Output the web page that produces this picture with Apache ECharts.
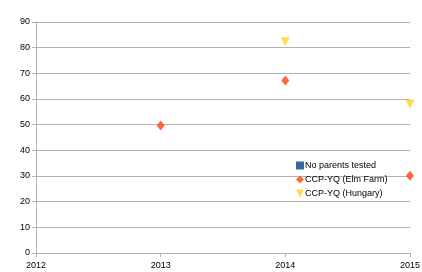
<!DOCTYPE html>
<html>
<head>
<meta charset="utf-8">
<script src="https://cdn.jsdelivr.net/npm/echarts@6/dist/echarts.min.js"></script>
<style>
  html, body { margin: 0; padding: 0; background: #fff; }
  #chart { width: 422px; height: 272px; }
</style>
</head>
<body>
<div id="chart"></div>
<script>
// data
const years = [2012, 2013, 2014, 2015];
const yTicks = [0, 10, 20, 30, 40, 50, 60, 70, 80, 90];
const noParents = [];
const elmFarm = [[2013, 49.7], [2014, 67.2], [2015, 30.1]];
const hungary = [[2014, 82.3], [2015, 58.0]];

const downTriangle = 'path://M0,0L10,0L5,10Z';
const font = 'Liberation Sans';

const chart = echarts.init(document.getElementById('chart'));

let option = {
    animation: false,
    textStyle: { fontFamily: font },
    grid: {
        left: 36,
        right: 12,
        top: 22,
        bottom: 19,
        outerBoundsMode: 'none'
    },
    legend: {
        orient: 'vertical',
        left: 291,
        top: 156,
        itemWidth: 8,
        itemHeight: 8,
        itemGap: 5,
        textStyle: { fontFamily: font, fontSize: 9, color: '#000', padding: [0, 0, 0, -4] },
        data: [
            { name: 'No parents tested', icon: 'rect' },
            { name: 'CCP-YQ (Elm Farm)', icon: 'diamond' },
            { name: 'CCP-YQ (Hungary)', icon: downTriangle }
        ]
    },
    xAxis: {
        type: 'value',
        min: years[0],
        max: years[years.length - 1],
        interval: 1,
        axisLine: { lineStyle: { color: '#b3b3b3' } },
        axisTick: { show: true, length: 4, lineStyle: { color: '#b3b3b3' } },
        axisLabel: { color: '#000', fontSize: 9, fontFamily: font, margin: 8, formatter: v => String(v) },
        splitLine: { show: false }
    },
    yAxis: {
        type: 'value',
        min: yTicks[0],
        max: yTicks[yTicks.length - 1],
        interval: 10,
        axisLine: { show: true, lineStyle: { color: '#b3b3b3' } },
        axisTick: { show: true, length: 4, lineStyle: { color: '#b3b3b3' } },
        axisLabel: { color: '#000', fontSize: 9, fontFamily: font, margin: 6 },
        splitLine: { show: true, lineStyle: { color: '#b3b3b3' } }
    },
    series: [
        {
            name: 'No parents tested',
            type: 'scatter',
            symbol: 'rect',
            itemStyle: { color: '#004586' },
            data: noParents
        },
        {
            name: 'CCP-YQ (Elm Farm)',
            type: 'scatter',
            symbol: 'diamond',
            symbolSize: [8, 10],
            itemStyle: { color: '#ff420e' },
            data: elmFarm
        },
        {
            name: 'CCP-YQ (Hungary)',
            type: 'scatter',
            symbol: downTriangle,
            symbolSize: [9, 9],
            itemStyle: { color: '#ffd320' },
            data: hungary
        }
    ]
};
chart.setOption(option);
</script>
</body>
</html>
